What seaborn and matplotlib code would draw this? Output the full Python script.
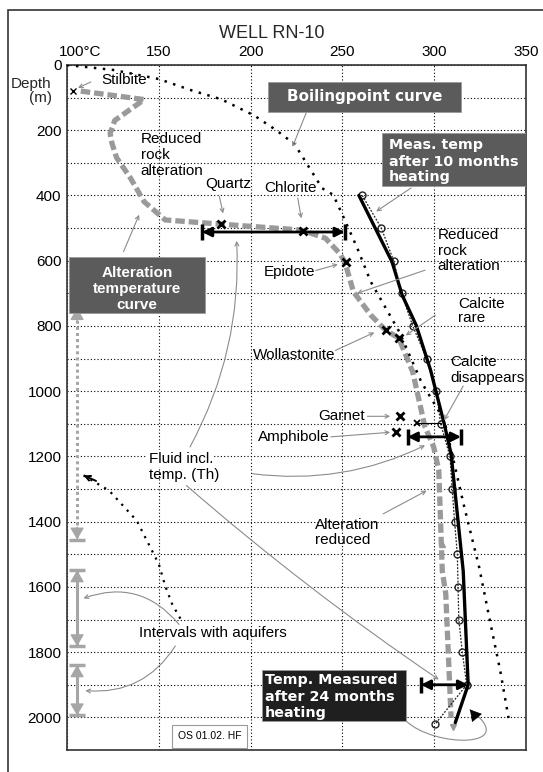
import matplotlib
matplotlib.use("Agg")
import matplotlib.pyplot as plt
from matplotlib.patches import Rectangle, FancyArrowPatch
from matplotlib.path import Path
from matplotlib.transforms import ScaledTranslation
import seaborn as sns

# ---------------- data ----------------
# Boiling point (BPD) curve
boil_temp = [100, 125, 150, 168, 184, 202, 214, 224, 239, 245, 250, 258, 265.5,
             281, 293, 305.5, 316, 324.5, 330, 336, 340.5]
boil_depth = [0, 15, 43, 78, 105, 155, 200, 243, 378, 398, 459, 560, 665,
              818, 972, 1089, 1346, 1540, 1694, 1858, 2002]

# Alteration temperature curve
alter_temp = [107.5, 142, 126, 123.5, 124.5, 127, 134.5, 142, 153.5, 184, 227.6,
              240.8, 248.4, 251.3, 256, 265.5, 273.5, 280.7, 288.3, 295, 299.7,
              302.5, 304.4, 306.3, 309.2]
alter_depth = [80, 106, 170, 210, 240, 284, 346, 419, 475, 488, 506,
               531, 577, 603, 695, 767, 813, 837, 941, 1110, 1171,
               1243, 1551, 1622, 2002]

# Temperature measured after 10 months heating
meas10_temp = [260.8, 271.2, 277.9, 282.2, 288.3, 295.9, 301.2, 303.5, 308.6,
               309.8, 311.1, 312.6, 313, 313.4, 315.3, 317.7, 300.6]
meas10_depth = [400, 500, 600, 700, 800, 900, 1000, 1100, 1200,
                1300, 1400, 1500, 1600, 1700, 1800, 1900, 2020]

# Temperature measured after 24 months heating
meas24_temp = [259, 277, 282.6, 290.2, 298, 305.4, 309.2, 315.8, 318.5, 311.5]
meas24_depth = [400, 603, 706, 798, 935, 1099, 1192, 1551, 1900, 2016]

# Alteration minerals (first appearance)
mineral_names = ["Stilbite", "Quartz", "Chlorite", "Epidote", "Wollastonite",
                 "Wollastonite", "Garnet", "Amphibole"]
mineral_temp = [103.1, 184, 228.5, 252.2, 273.5, 280.7, 281.6, 279.2]
mineral_depth = [80, 488, 509, 605, 813, 837, 1077, 1126]

# Fluid inclusion homogenisation temperature ranges
fi_depth = [512, 1140, 1900]
fi_tmin = [173.5, 285.5, 292.7]
fi_tmax = [251.3, 314.6, 318.5]

# Aquifer intervals (m)
aquifer_top = [745, 1549, 1840]
aquifer_bottom = [1455, 1782, 1994]

# Dotted curve at lower left
lower_temp = [109, 123, 138, 150, 153.5, 157.3, 163]
lower_depth = [1258, 1305, 1397, 1530, 1597, 1653, 1710]

temp_ticks = [100, 150, 200, 250, 300, 350]
temp_labels = ["100°C", "150", "200", "250", "300", "350"]
depth_ticks = list(range(0, 2001, 200))
depth_grid = list(range(0, 2101, 100))

# ---------------- styling ----------------
sns.set_theme(style="white")
plt.rcParams["font.family"] = ["Liberation Sans", "DejaVu Sans"]

W, H = 543, 772
fig = plt.figure(figsize=(W / 100, H / 100), dpi=100)
ax = fig.add_axes([67 / W, 1 - 750 / H, (526 - 67) / W, (750 - 65) / H])

GRAY_LINE = "#8c8c8c"
ALT_GRAY = "#9a9a9a"
AQ_GRAY = "#a6a6a6"
BOX_GRAY = "#5b5b5b"
BOX_DARK = "#1f1f1f"

# ---------------- curves ----------------
sns.lineplot(x=boil_temp, y=boil_depth, sort=False, estimator=None, ax=ax,
             color="black", linewidth=1.8, linestyle=(0, (1, 2.6)), zorder=4)

sns.lineplot(x=alter_temp, y=alter_depth, sort=False, estimator=None, ax=ax,
             color=ALT_GRAY, linewidth=3.8, linestyle=(0, (1.8, 0.75)), zorder=3)

sns.lineplot(x=meas10_temp, y=meas10_depth, sort=False, estimator=None, ax=ax,
             color="#222222", linewidth=0.9, linestyle=(0, (1.5, 1.2)),
             marker="o", markersize=5, markerfacecolor="none",
             markeredgecolor="#222222", markeredgewidth=1.0, zorder=5)

sns.lineplot(x=meas24_temp, y=meas24_depth, sort=False, estimator=None, ax=ax,
             color="black", linewidth=2.4, zorder=6)

sns.lineplot(x=lower_temp, y=lower_depth, sort=False, estimator=None, ax=ax,
             color="black", linewidth=1.6, linestyle=(0, (1, 2.6)), zorder=4)
ax.annotate("", xy=(lower_temp[0], lower_depth[0]), xytext=(9, -4),
            textcoords="offset points",
            arrowprops=dict(arrowstyle="->", color="black", lw=1.4,
                            shrinkA=0, shrinkB=0, mutation_scale=9))

# small gray marks on the alteration curve
ax.plot([304.4], [1469], marker="^", color=ALT_GRAY, markersize=5, zorder=3)
ax.plot([alter_temp[-1] + 0.8], [2030], marker="v", color=ALT_GRAY, markersize=5, zorder=3)

# ---------------- mineral markers ----------------
for i, (t, d) in enumerate(zip(mineral_temp, mineral_depth)):
    small = i == 0
    ax.plot([t], [d], marker="x", color="black",
            markersize=4 if small else 6, markeredgewidth=1.0 if small else 2.0,
            zorder=7)
# extra small x at 1100 m tied to the measured point
ax.plot([290.6], [1098], marker="x", color="black", markersize=5,
        markeredgewidth=1.3, zorder=7)
ax.plot([290.6, meas10_temp[7]], [1098, 1098], color="black", lw=0.8, zorder=7)

# ---------------- fluid inclusion ranges ----------------
for k, (d, t0, t1) in enumerate(zip(fi_depth, fi_tmin, fi_tmax)):
    ax.annotate("", xy=(t0, d), xytext=(t1, d),
                arrowprops=dict(arrowstyle="<|-|>", color="black", lw=2.0,
                                shrinkA=0, shrinkB=0, mutation_scale=14),
                zorder=8)
    ax.plot([t0], [d], marker="|", color="black", markersize=11,
            markeredgewidth=2.5, zorder=8)
    if k < 2:
        ax.plot([t1], [d], marker="|", color="black", markersize=11,
                markeredgewidth=2.5, zorder=8)

# ---------------- aquifer intervals ----------------
AQ_X = 105.5
for k, (d0, d1) in enumerate(zip(aquifer_top, aquifer_bottom)):
    ax.plot([AQ_X, AQ_X], [d0, d1], color=AQ_GRAY, lw=2.2,
            linestyle=(0, (1, 1)) if k == 0 else "-", zorder=3)
    for a, off in ((d0, -9), (d1, 9)):
        ax.annotate("", xy=(AQ_X, a), xytext=(0, off), textcoords="offset points",
                    arrowprops=dict(arrowstyle="-|>,head_length=0.6,head_width=0.35",
                                    color=AQ_GRAY, lw=1.0, shrinkA=0, shrinkB=0,
                                    mutation_scale=12))
        ax.plot([AQ_X], [a], marker="_", color=AQ_GRAY, markersize=11,
                markeredgewidth=2.5, zorder=3)

# ---------------- axes ----------------
ax.set_xlim(100, 350)
ax.set_ylim(2100, 0)
ax.set_xticks(temp_ticks)
ax.set_xticklabels(temp_labels)
ax.set_yticks(depth_ticks)
ax.set_yticks(depth_grid, minor=True)
ax.xaxis.tick_top()
ax.tick_params(axis="both", which="both", length=0, labelsize=11,
               colors="black", pad=4)
first = ax.get_xticklabels()[0]
first.set_horizontalalignment("left")
first.set_transform(first.get_transform()
                    + ScaledTranslation(-8 / 100, 0, fig.dpi_scale_trans))
ax.set_xlabel("")
ax.set_ylabel("")
ax.grid(axis="y", which="both", color="black", lw=0.8, linestyle=(0, (1, 2)))
ax.grid(axis="x", which="major", color="black", lw=0.8, linestyle=(0, (1, 2)))
ax.set_axisbelow(True)
for s in ax.spines.values():
    s.set_color("#333333")
    s.set_linewidth(1.2)

ax.text(-0.033, 80, "Depth\n(m)", transform=ax.get_yaxis_transform(),
        ha="right", va="center", fontsize=11, linespacing=1.0)
fig.text(0.5, 1 - 33 / H, "WELL RN-10", ha="center", va="center", fontsize=13)

fig.add_artist(Rectangle((8 / W, -0.1), 1.0, 1 - 10 / H + 0.1,
                         transform=fig.transFigure, fill=False,
                         ec="#333333", lw=1.2))


# ---------------- labels & pointers ----------------
def pointer(x0, y0, x1, y1, rad=0.0, color=GRAY_LINE, style="->", ms=7):
    ax.annotate("", xy=(x1, y1), xytext=(x0, y0),
                arrowprops=dict(arrowstyle=style, color=color, lw=0.8,
                                shrinkA=0, shrinkB=0, mutation_scale=ms,
                                connectionstyle=f"arc3,rad={rad}"),
                zorder=6)


LBL = dict(fontsize=11, color="black", zorder=9)

ax.text(118.5, 47, "Stilbite", ha="left", va="center", **LBL)
pointer(113, 52, 106, 70)

for d, s in zip([227, 277, 325], ["Reduced", "rock", "alteration"]):
    ax.text(140.2, d, s, ha="left", va="center", **LBL)

ax.text(188, 364, "Quartz", ha="center", va="center", **LBL)
pointer(183, 403, 185, 455)
ax.text(222, 378, "Chlorite", ha="center", va="center", **LBL)
pointer(225.7, 408, 227.6, 470)
ax.text(221, 634, "Epidote", ha="center", va="center", **LBL)
pointer(235.5, 630, 247.5, 611)

for d, s in zip([521, 570, 617], ["Reduced", "rock", "alteration"]):
    ax.text(302, d, s, ha="left", va="center", **LBL)
pointer(295, 629, 258, 700)

ax.text(313, 734, "Calcite", ha="left", va="center", **LBL)
ax.text(313, 777, "rare", ha="left", va="center", **LBL)
pointer(300.6, 767, 284.5, 829)

ax.text(224, 890, "Wollastonite", ha="center", va="center", **LBL)
pointer(246.2, 875, 267.4, 820)

ax.text(309, 910, "Calcite", ha="left", va="center", **LBL)
ax.text(309, 960, "disappears", ha="left", va="center", **LBL)
pointer(315.8, 984, 305.4, 1089)

ax.text(249.5, 1077, "Garnet", ha="center", va="center", **LBL)
pointer(263.6, 1077, 276, 1077)
ax.text(223.5, 1140, "Amphibole", ha="center", va="center", **LBL)
pointer(243.7, 1140, 276, 1126)

ax.text(144.4, 1207, "Fluid incl.", ha="left", va="center",
        bbox=dict(fc="white", ec="none", pad=1.0), **LBL)
ax.text(144.4, 1258, "temp. (Th)", ha="left", va="center", **LBL)
pointer(167, 1171, 192.4, 539, rad=0.14)
pointer(201, 1253, 295, 1166, rad=0.15)
pointer(165, 1289, 302.5, 1884, rad=0.03)

ax.text(235.2, 1409, "Alteration", ha="left", va="center", **LBL)
ax.text(235.2, 1456, "reduced", ha="left", va="center", **LBL)
pointer(272.2, 1376, 295.9, 1305)

ax.text(139.3, 1740, "Intervals with aquifers", ha="left", va="center", **LBL)
pointer(161, 1715, 109, 1635, rad=0.35)
pointer(159, 1781, 110, 1918, rad=-0.3)


# dark label boxes
def label_box(t0, t1, d0, d1, color):
    ax.add_patch(Rectangle((t0, d0), t1 - t0, d1 - d0, fc=color,
                           ec="#9a9a9a", lw=0.6, zorder=9))


WIDE = dict(color="white", fontweight="bold", fontsize=10.3,
            family="DejaVu Sans", zorder=10)
BOLD = dict(color="white", fontweight="bold", fontsize=11, zorder=10)

label_box(209.5, 314.5, 52, 143, BOX_GRAY)
ax.text(262, 97, "Boilingpoint curve", ha="center", va="center",
        **dict(WIDE, fontsize=10.9))
pointer(230.4, 145, 222.8, 251)

label_box(271.8, 350, 207, 372, BOX_GRAY)
for d, s in zip([246, 297, 344], ["Meas. temp", "after 10 months", "heating"]):
    ax.text(275.5, d, s, ha="left", va="center", **WIDE)
pointer(287.4, 377, 268.4, 449)

label_box(101.3, 175, 590, 759, BOX_GRAY)
for d, s in zip([639, 687, 735], ["Alteration", "temperature", "curve"]):
    ax.text(138.2, d, s, ha="center", va="center", **BOLD)
pointer(130.8, 572, 139.3, 459)

label_box(206, 284.5, 1856, 2010, BOX_DARK)
for d, s in zip([1884, 1937, 1987], ["Temp. Measured", "after 24 months", "heating"]):
    ax.text(207.6, d, s, ha="left", va="center", **WIDE)
loop = Path([(284.5, 2010), (300, 2095), (348, 2095), (319.5, 1976)],
            [Path.MOVETO, Path.CURVE4, Path.CURVE4, Path.CURVE4])
ax.add_patch(FancyArrowPatch(path=loop, arrowstyle="-", color=GRAY_LINE,
                             lw=0.8, zorder=6))
ax.annotate("", xy=(319.5, 1976), xytext=(5, -6), textcoords="offset points",
            arrowprops=dict(arrowstyle="-|>,head_length=0.6,head_width=0.35",
                            color="black", lw=0.5, shrinkA=0, shrinkB=0,
                            mutation_scale=12), zorder=7)

ax.add_patch(Rectangle((157.3, 2023), 40.8, 71, fc="white", ec="#9a9a9a",
                       lw=0.8, zorder=9))
ax.text(177.7, 2058, "OS 01.02. HF", ha="center", va="center", fontsize=7.5,
        color="black", zorder=10)

fig.savefig("out.png", dpi=100)
